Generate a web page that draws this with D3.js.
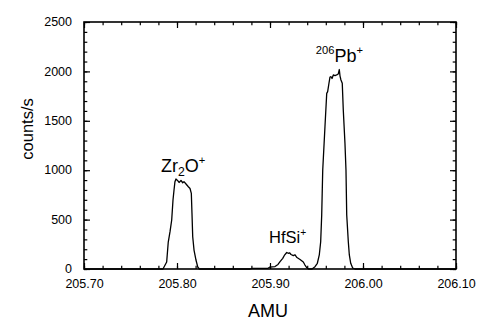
<!DOCTYPE html>
<html>
<head>
<meta charset="utf-8">
<script src="https://cdn.jsdelivr.net/npm/d3@7"></script>
<style>
  html, body { margin: 0; padding: 0; background: #fff; }
  svg { display: block; font-family: "Liberation Sans", Arial, Helvetica, sans-serif; }
</style>
</head>
<body>
<svg id="chart" width="500" height="329"></svg>
<script>
// ---- data (AMU, counts/s) ----
const amu = [
  205.700, 205.7849, 205.7889, 205.7906, 205.7925, 205.7943, 205.7957, 205.7968, 205.7978, 205.7989,
  205.8008, 205.8022, 205.8043, 205.8061, 205.8075, 205.8097, 205.8122, 205.8140, 205.8154, 205.8161,
  205.8169, 205.8183, 205.8204, 205.8223, 205.8240,
  205.8785, 205.8806, 205.8978, 205.9000, 205.9054, 205.9086, 205.9108, 205.9137, 205.9154, 205.9180,
  205.9197, 205.9210, 205.9226, 205.9251, 205.9269, 205.9290, 205.9323, 205.9358, 205.9376, 205.9395,
  205.9414, 205.9452,
  205.9484, 205.9509, 205.9530, 205.9545, 205.9556, 205.9567, 205.9591, 205.9610, 205.9620, 205.9634,
  205.9645, 205.9656, 205.9667, 205.9681, 205.9699, 205.9717, 205.9734, 205.9745, 205.9753, 205.9763,
  205.9777, 205.9788, 205.9806, 205.9817, 205.9825, 205.9842, 205.9853, 205.9868, 205.9889, 205.9914,
  206.100
];
const counts = [
  0, 0, 71, 273, 378, 496, 698, 800, 884, 911,
  894, 876, 896, 873, 884, 860, 833, 815, 766, 567,
  327, 192, 91, 20, 0,
  0, 7, 7, 20, 25, 46, 74, 108, 137, 167,
  159, 164, 147, 135, 144, 116, 96, 71, 40, 15,
  0, 0,
  23, 58, 142, 276, 547, 1002, 1440, 1778, 1795, 1880,
  1943, 1946, 1928, 1964, 1958, 1964, 1974, 2019, 1953, 1913,
  1880, 1609, 1272, 1002, 547, 276, 142, 58, 10, 0,
  0
];
const xTicks = [205.70, 205.80, 205.90, 206.00, 206.10];
const xTickLabels = ["205.70", "205.80", "205.90", "206.00", "206.10"];
const yTicks = [0, 500, 1000, 1500, 2000, 2500];
const yTickLabels = ["0", "500", "1000", "1500", "2000", "2500"];
const xDomain = [205.70, 206.10];
const yDomain = [0, 2500];
const xMinorStep = 0.02;
const yMinorStep = 100;
// peak labels: [main, sub/sup parts], anchored at data coordinates
const peakLabels = [
  { at: [205.7828, 985],  parts: [["Zr", "n"], ["2", "sub"], ["O", "n"], ["+", "sup"]], size: 18 },
  { at: [205.8990, 260],  parts: [["HfSi", "n"], ["+", "sup"]], size: 16.5 },
  { at: [205.9492, 2100], parts: [["206", "sup"], ["Pb", "n"], ["+", "sup"]], size: 18 }
];

// ---- layout ----
const svg = d3.select("#chart");
const L = 84, R = 456, T = 22, B = 269;
const x = d3.scaleLinear().domain(xDomain).range([L, R]);
const y = d3.scaleLinear().domain(yDomain).range([B, T]);

const xMinor = d3.range(0, Math.round((xDomain[1] - xDomain[0]) / xMinorStep) + 1).map(i => xDomain[0] + i * xMinorStep);
const yMinor = d3.range(0, Math.round((yDomain[1] - yDomain[0]) / yMinorStep) + 1).map(i => yDomain[0] + i * yMinorStep);

function styleAxis(g) {
  g.select(".domain").remove();
  g.selectAll(".tick line").attr("stroke", "#000").attr("stroke-width", 1.2);
}
// minor ticks (inward)
svg.append("g").attr("transform", `translate(0,${B})`)
  .call(d3.axisBottom(x).tickValues(xMinor).tickSize(-3.3).tickFormat("")).call(styleAxis);
svg.append("g").attr("transform", `translate(0,${T})`)
  .call(d3.axisTop(x).tickValues(xMinor).tickSize(-3.3).tickFormat("")).call(styleAxis);
svg.append("g").attr("transform", `translate(${L},0)`)
  .call(d3.axisLeft(y).tickValues(yMinor).tickSize(-3.3).tickFormat("")).call(styleAxis);
svg.append("g").attr("transform", `translate(${R},0)`)
  .call(d3.axisRight(y).tickValues(yMinor).tickSize(-3.3).tickFormat("")).call(styleAxis);
// major ticks
const gxb = svg.append("g").attr("transform", `translate(0,${B})`)
  .call(d3.axisBottom(x).tickValues(xTicks).tickSize(-6).tickPadding(11)
    .tickFormat((d, i) => xTickLabels[i])).call(styleAxis);
svg.append("g").attr("transform", `translate(0,${T})`)
  .call(d3.axisTop(x).tickValues(xTicks).tickSize(-6).tickFormat("")).call(styleAxis);
const gyl = svg.append("g").attr("transform", `translate(${L},0)`)
  .call(d3.axisLeft(y).tickValues(yTicks).tickSize(-6).tickPadding(12)
    .tickFormat((d, i) => yTickLabels[i])).call(styleAxis);
svg.append("g").attr("transform", `translate(${R},0)`)
  .call(d3.axisRight(y).tickValues(yTicks).tickSize(-6).tickFormat("")).call(styleAxis);

[gxb, gyl].forEach(g => g.selectAll("text")
  .attr("font-family", "'Liberation Sans', Arial, sans-serif")
  .attr("font-size", 12.5).attr("fill", "#000"));
gxb.selectAll("text").attr("dy", "0.71em").attr("y", 10);
gyl.selectAll("text").attr("dy", "0.3em");

// data line
const line = d3.line().x((d, i) => x(amu[i])).y((d, i) => y(counts[i]));
svg.append("path")
  .datum(counts)
  .attr("d", line)
  .attr("fill", "none")
  .attr("stroke", "#000")
  .attr("stroke-width", 1.3)
  .attr("stroke-linejoin", "round");

// frame
svg.append("rect")
  .attr("x", L).attr("y", T).attr("width", R - L).attr("height", B - T)
  .attr("fill", "none").attr("stroke", "#000").attr("stroke-width", 1.6);

// axis titles
svg.append("text")
  .attr("x", (L + R) / 2 - 2).attr("y", 317)
  .attr("text-anchor", "middle").attr("font-size", 18).attr("fill", "#000")
  .text("AMU");
svg.append("text")
  .attr("transform", `translate(33,129) rotate(-90)`)
  .attr("text-anchor", "middle").attr("font-size", 16.5).attr("fill", "#000")
  .text("counts/s");

// peak labels
peakLabels.forEach(lab => {
  const t = svg.append("text")
    .attr("x", x(lab.at[0])).attr("y", y(lab.at[1]))
    .attr("font-size", lab.size).attr("fill", "#000");
  lab.parts.forEach(([s, kind]) => {
    const ts = t.append("tspan").text(s);
    if (kind === "sub") ts.attr("font-size", lab.size * 0.68).attr("dy", "0.22em");
    else if (kind === "sup") ts.attr("font-size", lab.size * 0.62).attr("dy", "-0.55em");
    else ts.attr("dy", "0");
  });
  // reset baseline between parts
  let shift = 0;
  t.selectAll("tspan").each(function (d, i) {
    const kind = lab.parts[i][1];
    const fs = kind === "n" ? lab.size : (kind === "sub" ? lab.size * 0.68 : lab.size * 0.62);
    const target = kind === "sub" ? lab.size * 0.22 : (kind === "sup" ? -lab.size * 0.42 : 0);
    d3.select(this).attr("dy", (target - shift).toFixed(2));
    shift = target;
  });
});
</script>
</body>
</html>
